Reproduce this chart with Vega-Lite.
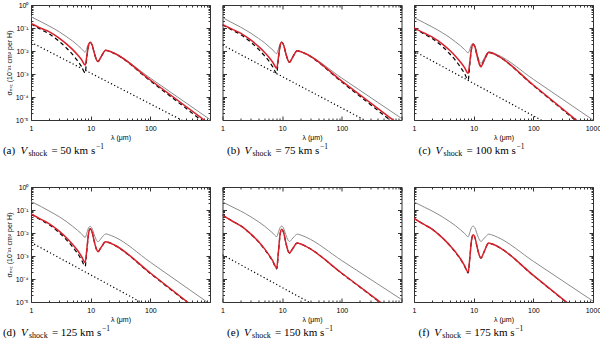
{
"$schema":"https://vega.github.io/schema/vega-lite/v6.json",
"padding":{"left":1,"top":0,"right":0,"bottom":0},
"background":"white",
"config":{"view":{"stroke":"#333","strokeWidth":1},"axis":{"grid":false,"labelFont":"Liberation Sans","titleFont":"Liberation Sans","labelFontSize":7,"titleFontSize":7,"titleFontWeight":"normal","labelColor":"#000","titleColor":"#000","tickColor":"#333"}},
"datasets":{
"a_gray":[{"lambda":1,"log_sigma":-0.51},{"lambda":1.5,"log_sigma":-0.74},{"lambda":2,"log_sigma":-0.91},{"lambda":3,"log_sigma":-1.17},{"lambda":4,"log_sigma":-1.39},{"lambda":5,"log_sigma":-1.57},{"lambda":6,"log_sigma":-1.74},{"lambda":7,"log_sigma":-1.9},{"lambda":8.1,"log_sigma":-2.05},{"lambda":8.6,"log_sigma":-1.89},{"lambda":9.2,"log_sigma":-1.68},{"lambda":9.8,"log_sigma":-1.62},{"lambda":10.5,"log_sigma":-1.72},{"lambda":11.5,"log_sigma":-2.08},{"lambda":12.5,"log_sigma":-2.38},{"lambda":13.3,"log_sigma":-2.46},{"lambda":14.5,"log_sigma":-2.31},{"lambda":16,"log_sigma":-2.12},{"lambda":17,"log_sigma":-2.01},{"lambda":18,"log_sigma":-1.97},{"lambda":20,"log_sigma":-2.0},{"lambda":25,"log_sigma":-2.1},{"lambda":100,"log_sigma":-3.18},{"lambda":1000,"log_sigma":-4.98}],
"a_red":[{"lambda":1,"log_sigma":-0.8},{"lambda":1.5,"log_sigma":-1.02},{"lambda":2,"log_sigma":-1.16},{"lambda":3,"log_sigma":-1.45},{"lambda":4,"log_sigma":-1.71},{"lambda":5,"log_sigma":-1.94},{"lambda":6,"log_sigma":-2.16},{"lambda":7,"log_sigma":-2.37},{"lambda":8.1,"log_sigma":-2.61},{"lambda":8.6,"log_sigma":-2.24},{"lambda":9.2,"log_sigma":-1.77},{"lambda":9.8,"log_sigma":-1.62},{"lambda":10.5,"log_sigma":-1.72},{"lambda":11.5,"log_sigma":-2.08},{"lambda":12.5,"log_sigma":-2.38},{"lambda":13.3,"log_sigma":-2.46},{"lambda":14.5,"log_sigma":-2.31},{"lambda":16,"log_sigma":-2.12},{"lambda":17,"log_sigma":-2.01},{"lambda":18,"log_sigma":-1.97},{"lambda":20,"log_sigma":-2.0},{"lambda":25,"log_sigma":-2.1},{"lambda":100,"log_sigma":-3.26},{"lambda":1000,"log_sigma":-5.19}],
"a_dashed":[{"lambda":1,"log_sigma":-0.82},{"lambda":1.5,"log_sigma":-1.08},{"lambda":2,"log_sigma":-1.25},{"lambda":3,"log_sigma":-1.59},{"lambda":4,"log_sigma":-1.89},{"lambda":5,"log_sigma":-2.16},{"lambda":6,"log_sigma":-2.42},{"lambda":7,"log_sigma":-2.67},{"lambda":8.1,"log_sigma":-2.95},{"lambda":8.6,"log_sigma":-2.3},{"lambda":9.2,"log_sigma":-1.78},{"lambda":9.8,"log_sigma":-1.62},{"lambda":10.5,"log_sigma":-1.72},{"lambda":11.5,"log_sigma":-2.08},{"lambda":12.5,"log_sigma":-2.38},{"lambda":13.3,"log_sigma":-2.46},{"lambda":14.5,"log_sigma":-2.31},{"lambda":16,"log_sigma":-2.12},{"lambda":17,"log_sigma":-2.01},{"lambda":18,"log_sigma":-1.97},{"lambda":20,"log_sigma":-2.0},{"lambda":25,"log_sigma":-2.11},{"lambda":100,"log_sigma":-3.3},{"lambda":1000,"log_sigma":-5.3}],
"a_dotted":[{"lambda":1,"log_sigma":-1.62},{"lambda":1000,"log_sigma":-5.64}],
"b_gray":[{"lambda":1,"log_sigma":-0.55},{"lambda":1.5,"log_sigma":-0.79},{"lambda":2,"log_sigma":-0.96},{"lambda":3,"log_sigma":-1.23},{"lambda":4,"log_sigma":-1.45},{"lambda":5,"log_sigma":-1.63},{"lambda":6,"log_sigma":-1.81},{"lambda":7,"log_sigma":-1.96},{"lambda":8.1,"log_sigma":-2.12},{"lambda":8.6,"log_sigma":-1.94},{"lambda":9.2,"log_sigma":-1.7},{"lambda":9.8,"log_sigma":-1.62},{"lambda":10.5,"log_sigma":-1.72},{"lambda":11.5,"log_sigma":-2.1},{"lambda":12.5,"log_sigma":-2.4},{"lambda":13.3,"log_sigma":-2.49},{"lambda":14.5,"log_sigma":-2.34},{"lambda":16,"log_sigma":-2.14},{"lambda":17,"log_sigma":-2.03},{"lambda":18,"log_sigma":-1.99},{"lambda":20,"log_sigma":-2.02},{"lambda":25,"log_sigma":-2.12},{"lambda":100,"log_sigma":-3.18},{"lambda":1000,"log_sigma":-4.93}],
"b_red":[{"lambda":1,"log_sigma":-0.84},{"lambda":1.5,"log_sigma":-1.07},{"lambda":2,"log_sigma":-1.22},{"lambda":3,"log_sigma":-1.53},{"lambda":4,"log_sigma":-1.8},{"lambda":5,"log_sigma":-2.04},{"lambda":6,"log_sigma":-2.27},{"lambda":7,"log_sigma":-2.5},{"lambda":8.1,"log_sigma":-2.75},{"lambda":8.6,"log_sigma":-2.33},{"lambda":9.2,"log_sigma":-1.79},{"lambda":9.8,"log_sigma":-1.62},{"lambda":10.5,"log_sigma":-1.72},{"lambda":11.5,"log_sigma":-2.1},{"lambda":12.5,"log_sigma":-2.4},{"lambda":13.3,"log_sigma":-2.49},{"lambda":14.5,"log_sigma":-2.34},{"lambda":16,"log_sigma":-2.14},{"lambda":17,"log_sigma":-2.03},{"lambda":18,"log_sigma":-1.99},{"lambda":20,"log_sigma":-2.02},{"lambda":25,"log_sigma":-2.12},{"lambda":100,"log_sigma":-3.31},{"lambda":1000,"log_sigma":-5.28}],
"b_dashed":[{"lambda":1,"log_sigma":-0.86},{"lambda":1.5,"log_sigma":-1.11},{"lambda":2,"log_sigma":-1.28},{"lambda":3,"log_sigma":-1.62},{"lambda":4,"log_sigma":-1.92},{"lambda":5,"log_sigma":-2.19},{"lambda":6,"log_sigma":-2.44},{"lambda":7,"log_sigma":-2.7},{"lambda":8.1,"log_sigma":-2.97},{"lambda":8.6,"log_sigma":-2.4},{"lambda":9.2,"log_sigma":-1.8},{"lambda":9.8,"log_sigma":-1.62},{"lambda":10.5,"log_sigma":-1.72},{"lambda":11.5,"log_sigma":-2.1},{"lambda":12.5,"log_sigma":-2.4},{"lambda":13.3,"log_sigma":-2.49},{"lambda":14.5,"log_sigma":-2.34},{"lambda":16,"log_sigma":-2.14},{"lambda":17,"log_sigma":-2.03},{"lambda":18,"log_sigma":-1.99},{"lambda":20,"log_sigma":-2.02},{"lambda":25,"log_sigma":-2.13},{"lambda":100,"log_sigma":-3.35},{"lambda":1000,"log_sigma":-5.4}],
"b_dotted":[{"lambda":1,"log_sigma":-1.74},{"lambda":1000,"log_sigma":-5.85}],
"c_gray":[{"lambda":1,"log_sigma":-0.55},{"lambda":1.5,"log_sigma":-0.78},{"lambda":2,"log_sigma":-0.95},{"lambda":3,"log_sigma":-1.21},{"lambda":4,"log_sigma":-1.42},{"lambda":5,"log_sigma":-1.61},{"lambda":6,"log_sigma":-1.77},{"lambda":7,"log_sigma":-1.93},{"lambda":8.1,"log_sigma":-2.08},{"lambda":8.6,"log_sigma":-1.93},{"lambda":9.2,"log_sigma":-1.73},{"lambda":9.8,"log_sigma":-1.67},{"lambda":10.5,"log_sigma":-1.77},{"lambda":11.5,"log_sigma":-2.15},{"lambda":12.5,"log_sigma":-2.45},{"lambda":13.3,"log_sigma":-2.54},{"lambda":14.5,"log_sigma":-2.39},{"lambda":16,"log_sigma":-2.18},{"lambda":17,"log_sigma":-2.07},{"lambda":18,"log_sigma":-2.03},{"lambda":20,"log_sigma":-2.06},{"lambda":25,"log_sigma":-2.16},{"lambda":100,"log_sigma":-3.23},{"lambda":1000,"log_sigma":-5.0}],
"c_red":[{"lambda":1,"log_sigma":-0.99},{"lambda":1.5,"log_sigma":-1.23},{"lambda":2,"log_sigma":-1.39},{"lambda":3,"log_sigma":-1.7},{"lambda":4,"log_sigma":-1.98},{"lambda":5,"log_sigma":-2.24},{"lambda":6,"log_sigma":-2.48},{"lambda":7,"log_sigma":-2.71},{"lambda":8.1,"log_sigma":-2.97},{"lambda":8.6,"log_sigma":-2.5},{"lambda":9.2,"log_sigma":-1.9},{"lambda":9.8,"log_sigma":-1.71},{"lambda":10.5,"log_sigma":-1.83},{"lambda":11.5,"log_sigma":-2.24},{"lambda":12.5,"log_sigma":-2.58},{"lambda":13.3,"log_sigma":-2.68},{"lambda":14.5,"log_sigma":-2.49},{"lambda":16,"log_sigma":-2.25},{"lambda":17,"log_sigma":-2.11},{"lambda":18,"log_sigma":-2.06},{"lambda":20,"log_sigma":-2.09},{"lambda":25,"log_sigma":-2.2},{"lambda":100,"log_sigma":-3.48},{"lambda":1000,"log_sigma":-5.6}],
"c_dashed":[{"lambda":1,"log_sigma":-1.0},{"lambda":1.5,"log_sigma":-1.27},{"lambda":2,"log_sigma":-1.45},{"lambda":3,"log_sigma":-1.81},{"lambda":4,"log_sigma":-2.13},{"lambda":5,"log_sigma":-2.42},{"lambda":6,"log_sigma":-2.7},{"lambda":7,"log_sigma":-2.97},{"lambda":8.1,"log_sigma":-3.26},{"lambda":8.6,"log_sigma":-2.6},{"lambda":9.2,"log_sigma":-1.92},{"lambda":9.8,"log_sigma":-1.71},{"lambda":10.5,"log_sigma":-1.83},{"lambda":11.5,"log_sigma":-2.24},{"lambda":12.5,"log_sigma":-2.58},{"lambda":13.3,"log_sigma":-2.68},{"lambda":14.5,"log_sigma":-2.49},{"lambda":16,"log_sigma":-2.25},{"lambda":17,"log_sigma":-2.11},{"lambda":18,"log_sigma":-2.06},{"lambda":20,"log_sigma":-2.09},{"lambda":25,"log_sigma":-2.21},{"lambda":100,"log_sigma":-3.5},{"lambda":1000,"log_sigma":-5.65}],
"c_dotted":[{"lambda":1,"log_sigma":-2.0},{"lambda":1000,"log_sigma":-6.23}],
"d_gray":[{"lambda":1,"log_sigma":-0.63},{"lambda":1.5,"log_sigma":-0.86},{"lambda":2,"log_sigma":-1.04},{"lambda":3,"log_sigma":-1.3},{"lambda":4,"log_sigma":-1.52},{"lambda":5,"log_sigma":-1.71},{"lambda":6,"log_sigma":-1.88},{"lambda":7,"log_sigma":-2.03},{"lambda":8.1,"log_sigma":-2.19},{"lambda":8.6,"log_sigma":-2.01},{"lambda":9.2,"log_sigma":-1.78},{"lambda":9.8,"log_sigma":-1.71},{"lambda":10.5,"log_sigma":-1.79},{"lambda":11.5,"log_sigma":-2.08},{"lambda":12.5,"log_sigma":-2.31},{"lambda":13.3,"log_sigma":-2.38},{"lambda":14.5,"log_sigma":-2.28},{"lambda":16,"log_sigma":-2.14},{"lambda":17,"log_sigma":-2.07},{"lambda":18,"log_sigma":-2.04},{"lambda":20,"log_sigma":-2.07},{"lambda":25,"log_sigma":-2.17},{"lambda":100,"log_sigma":-3.27},{"lambda":1000,"log_sigma":-5.09}],
"d_red":[{"lambda":1,"log_sigma":-1.17},{"lambda":1.5,"log_sigma":-1.42},{"lambda":2,"log_sigma":-1.59},{"lambda":3,"log_sigma":-1.93},{"lambda":4,"log_sigma":-2.23},{"lambda":5,"log_sigma":-2.5},{"lambda":6,"log_sigma":-2.75},{"lambda":7,"log_sigma":-3.01},{"lambda":8.1,"log_sigma":-3.28},{"lambda":8.6,"log_sigma":-2.74},{"lambda":9.2,"log_sigma":-2.04},{"lambda":9.8,"log_sigma":-1.82},{"lambda":10.5,"log_sigma":-1.94},{"lambda":11.5,"log_sigma":-2.37},{"lambda":12.5,"log_sigma":-2.71},{"lambda":13.3,"log_sigma":-2.81},{"lambda":14.5,"log_sigma":-2.68},{"lambda":16,"log_sigma":-2.51},{"lambda":17,"log_sigma":-2.41},{"lambda":18,"log_sigma":-2.38},{"lambda":20,"log_sigma":-2.41},{"lambda":25,"log_sigma":-2.52},{"lambda":100,"log_sigma":-3.74},{"lambda":1000,"log_sigma":-5.77}],
"d_dashed":[{"lambda":1,"log_sigma":-1.18},{"lambda":1.5,"log_sigma":-1.45},{"lambda":2,"log_sigma":-1.63},{"lambda":3,"log_sigma":-2.0},{"lambda":4,"log_sigma":-2.32},{"lambda":5,"log_sigma":-2.61},{"lambda":6,"log_sigma":-2.88},{"lambda":7,"log_sigma":-3.16},{"lambda":8.1,"log_sigma":-3.45},{"lambda":8.6,"log_sigma":-2.8},{"lambda":9.2,"log_sigma":-2.06},{"lambda":9.8,"log_sigma":-1.82},{"lambda":10.5,"log_sigma":-1.94},{"lambda":11.5,"log_sigma":-2.37},{"lambda":12.5,"log_sigma":-2.71},{"lambda":13.3,"log_sigma":-2.81},{"lambda":14.5,"log_sigma":-2.68},{"lambda":16,"log_sigma":-2.51},{"lambda":17,"log_sigma":-2.41},{"lambda":18,"log_sigma":-2.38},{"lambda":20,"log_sigma":-2.41},{"lambda":25,"log_sigma":-2.53},{"lambda":100,"log_sigma":-3.76},{"lambda":1000,"log_sigma":-5.8}],
"d_dotted":[{"lambda":1,"log_sigma":-2.41},{"lambda":1000,"log_sigma":-6.64}],
"e_gray":[{"lambda":1,"log_sigma":-0.65},{"lambda":1.5,"log_sigma":-0.88},{"lambda":2,"log_sigma":-1.04},{"lambda":3,"log_sigma":-1.3},{"lambda":4,"log_sigma":-1.51},{"lambda":5,"log_sigma":-1.69},{"lambda":6,"log_sigma":-1.86},{"lambda":7,"log_sigma":-2.01},{"lambda":8.1,"log_sigma":-2.16},{"lambda":8.6,"log_sigma":-1.99},{"lambda":9.2,"log_sigma":-1.77},{"lambda":9.8,"log_sigma":-1.7},{"lambda":10.5,"log_sigma":-1.78},{"lambda":11.5,"log_sigma":-2.07},{"lambda":12.5,"log_sigma":-2.3},{"lambda":13.3,"log_sigma":-2.37},{"lambda":14.5,"log_sigma":-2.27},{"lambda":16,"log_sigma":-2.15},{"lambda":17,"log_sigma":-2.08},{"lambda":18,"log_sigma":-2.05},{"lambda":20,"log_sigma":-2.08},{"lambda":25,"log_sigma":-2.18},{"lambda":100,"log_sigma":-3.2},{"lambda":1000,"log_sigma":-4.89}],
"e_red":[{"lambda":1,"log_sigma":-1.22},{"lambda":1.5,"log_sigma":-1.5},{"lambda":2,"log_sigma":-1.68},{"lambda":3,"log_sigma":-2.05},{"lambda":4,"log_sigma":-2.37},{"lambda":5,"log_sigma":-2.67},{"lambda":6,"log_sigma":-2.95},{"lambda":7,"log_sigma":-3.22},{"lambda":8.1,"log_sigma":-3.52},{"lambda":8.6,"log_sigma":-2.9},{"lambda":9.2,"log_sigma":-2.09},{"lambda":9.8,"log_sigma":-1.84},{"lambda":10.5,"log_sigma":-1.96},{"lambda":11.5,"log_sigma":-2.41},{"lambda":12.5,"log_sigma":-2.77},{"lambda":13.3,"log_sigma":-2.87},{"lambda":14.5,"log_sigma":-2.74},{"lambda":16,"log_sigma":-2.57},{"lambda":17,"log_sigma":-2.47},{"lambda":18,"log_sigma":-2.44},{"lambda":20,"log_sigma":-2.47},{"lambda":25,"log_sigma":-2.58},{"lambda":100,"log_sigma":-3.75},{"lambda":1000,"log_sigma":-5.7}],
"e_dashed":[{"lambda":1,"log_sigma":-1.22},{"lambda":1.5,"log_sigma":-1.5},{"lambda":2,"log_sigma":-1.68},{"lambda":3,"log_sigma":-2.06},{"lambda":4,"log_sigma":-2.38},{"lambda":5,"log_sigma":-2.69},{"lambda":6,"log_sigma":-2.97},{"lambda":7,"log_sigma":-3.25},{"lambda":8.1,"log_sigma":-3.56},{"lambda":8.6,"log_sigma":-2.92},{"lambda":9.2,"log_sigma":-2.1},{"lambda":9.8,"log_sigma":-1.84},{"lambda":10.5,"log_sigma":-1.96},{"lambda":11.5,"log_sigma":-2.41},{"lambda":12.5,"log_sigma":-2.77},{"lambda":13.3,"log_sigma":-2.87},{"lambda":14.5,"log_sigma":-2.74},{"lambda":16,"log_sigma":-2.57},{"lambda":17,"log_sigma":-2.47},{"lambda":18,"log_sigma":-2.44},{"lambda":20,"log_sigma":-2.47},{"lambda":25,"log_sigma":-2.58},{"lambda":100,"log_sigma":-3.76},{"lambda":1000,"log_sigma":-5.72}],
"e_dotted":[{"lambda":1,"log_sigma":-2.95},{"lambda":1000,"log_sigma":-7.21}],
"f_gray":[{"lambda":1,"log_sigma":-0.65},{"lambda":1.5,"log_sigma":-0.88},{"lambda":2,"log_sigma":-1.04},{"lambda":3,"log_sigma":-1.3},{"lambda":4,"log_sigma":-1.51},{"lambda":5,"log_sigma":-1.69},{"lambda":6,"log_sigma":-1.86},{"lambda":7,"log_sigma":-2.01},{"lambda":8.1,"log_sigma":-2.16},{"lambda":8.6,"log_sigma":-1.99},{"lambda":9.2,"log_sigma":-1.77},{"lambda":9.8,"log_sigma":-1.7},{"lambda":10.5,"log_sigma":-1.78},{"lambda":11.5,"log_sigma":-2.07},{"lambda":12.5,"log_sigma":-2.3},{"lambda":13.3,"log_sigma":-2.37},{"lambda":14.5,"log_sigma":-2.27},{"lambda":16,"log_sigma":-2.15},{"lambda":17,"log_sigma":-2.08},{"lambda":18,"log_sigma":-2.05},{"lambda":20,"log_sigma":-2.08},{"lambda":25,"log_sigma":-2.18},{"lambda":100,"log_sigma":-3.23},{"lambda":1000,"log_sigma":-4.96}],
"f_red":[{"lambda":1,"log_sigma":-1.36},{"lambda":1.5,"log_sigma":-1.64},{"lambda":2,"log_sigma":-1.83},{"lambda":3,"log_sigma":-2.21},{"lambda":4,"log_sigma":-2.54},{"lambda":5,"log_sigma":-2.84},{"lambda":6,"log_sigma":-3.12},{"lambda":7,"log_sigma":-3.41},{"lambda":8.1,"log_sigma":-3.71},{"lambda":8.6,"log_sigma":-3.11},{"lambda":9.2,"log_sigma":-2.32},{"lambda":9.8,"log_sigma":-2.08},{"lambda":10.5,"log_sigma":-2.2},{"lambda":11.5,"log_sigma":-2.64},{"lambda":12.5,"log_sigma":-2.99},{"lambda":13.3,"log_sigma":-3.09},{"lambda":14.5,"log_sigma":-2.9},{"lambda":16,"log_sigma":-2.64},{"lambda":17,"log_sigma":-2.49},{"lambda":18,"log_sigma":-2.44},{"lambda":20,"log_sigma":-2.47},{"lambda":25,"log_sigma":-2.58},{"lambda":100,"log_sigma":-3.84},{"lambda":1000,"log_sigma":-5.94}],
"f_dashed":[{"lambda":1,"log_sigma":-1.36},{"lambda":1.5,"log_sigma":-1.64},{"lambda":2,"log_sigma":-1.83},{"lambda":3,"log_sigma":-2.21},{"lambda":4,"log_sigma":-2.55},{"lambda":5,"log_sigma":-2.86},{"lambda":6,"log_sigma":-3.14},{"lambda":7,"log_sigma":-3.43},{"lambda":8.1,"log_sigma":-3.74},{"lambda":8.6,"log_sigma":-3.12},{"lambda":9.2,"log_sigma":-2.32},{"lambda":9.8,"log_sigma":-2.08},{"lambda":10.5,"log_sigma":-2.2},{"lambda":11.5,"log_sigma":-2.64},{"lambda":12.5,"log_sigma":-2.99},{"lambda":13.3,"log_sigma":-3.09},{"lambda":14.5,"log_sigma":-2.9},{"lambda":16,"log_sigma":-2.64},{"lambda":17,"log_sigma":-2.49},{"lambda":18,"log_sigma":-2.44},{"lambda":20,"log_sigma":-2.47},{"lambda":25,"log_sigma":-2.58},{"lambda":100,"log_sigma":-3.85},{"lambda":1000,"log_sigma":-5.95}]
},
"columns":3,
"spacing":{"row":67,"column":12.5},
"bounds":"flush",
"concat":[
{"width":179,"height":115,"resolve":{"axis":{"x":"independent","y":"independent"}},
"layer":[
{"data":{"name":"a_gray"},"mark":{"type":"line","color":"#8a8a8a","strokeWidth":1,"interpolate":"monotone","clip":true},"encoding":{"x":{"field":"lambda","type":"quantitative","scale":{"type":"log","domain":[1,1000]},"axis":{"orient":"bottom","values":[1,10,100],"ticks":false,"domain":false,"labelExpr":"'' + datum.value","labelPadding":4,"labelFlush":false,"labelOverlap":false,"title":"λ (μm)","titleY":17,"titleBaseline":"middle","titleColor":"#000"}},"y":{"field":"log_sigma","type":"quantitative","scale":{"domain":[-5,0],"nice":false,"zero":false},"axis":{"orient":"left","values":[-5,-4,-3,-2,-1,0],"ticks":false,"domain":false,"labelExpr":"['10⁰','10⁻¹','10⁻²','10⁻³','10⁻⁴','10⁻⁵'][round(-datum.value)]","labelPadding":3,"labelFlush":false,"labelOverlap":false,"title":"σₑₓₜ (10⁻²¹ cm² per H)","titleX":-22,"titleY":57.5,"titleAngle":-90,"titleAlign":"center","titleBaseline":"middle","titleColor":"#000"}}}},
{"data":{"name":"a_dotted"},"mark":{"type":"line","color":"#000","strokeWidth":1.2,"strokeDash":[1.2,2.4],"clip":true},"encoding":{"x":{"field":"lambda","type":"quantitative","scale":{"type":"log","domain":[1,1000]},"axis":{"orient":"bottom","values":[1,10,100,1000],"labels":false,"tickSize":-4,"domain":false,"title":null}},"y":{"field":"log_sigma","type":"quantitative","scale":{"domain":[-5,0],"nice":false,"zero":false},"axis":{"orient":"left","values":[-5,-4,-3,-2,-1,0],"labels":false,"tickSize":-4,"domain":false,"title":null}}}},
{"data":{"name":"a_dashed"},"mark":{"type":"line","color":"#000","strokeWidth":1.2,"strokeDash":[4,3],"interpolate":"monotone","clip":true},"encoding":{"x":{"field":"lambda","type":"quantitative","scale":{"type":"log","domain":[1,1000]},"axis":{"orient":"bottom","values":[2,3,4,5,6,7,8,9,20,30,40,50,60,70,80,90,200,300,400,500,600,700,800,900],"labels":false,"tickSize":-2,"domain":false,"title":null}},"y":{"field":"log_sigma","type":"quantitative","scale":{"domain":[-5,0],"nice":false,"zero":false},"axis":{"orient":"left","values":[-4.699,-4.523,-4.398,-4.301,-4.222,-4.155,-4.097,-4.046,-3.699,-3.523,-3.398,-3.301,-3.222,-3.155,-3.097,-3.046,-2.699,-2.523,-2.398,-2.301,-2.222,-2.155,-2.097,-2.046,-1.699,-1.523,-1.398,-1.301,-1.222,-1.155,-1.097,-1.046,-0.699,-0.523,-0.398,-0.301,-0.222,-0.155,-0.097,-0.046],"labels":false,"tickSize":-2,"domain":false,"title":null}}}},
{"data":{"name":"a_red"},"mark":{"type":"line","color":"#d8202a","strokeWidth":1.5,"interpolate":"monotone","clip":true},"encoding":{"x":{"field":"lambda","type":"quantitative","scale":{"type":"log","domain":[1,1000]},"axis":{"orient":"top","values":[1,10,100,1000],"labels":false,"tickSize":-4,"domain":false,"title":null}},"y":{"field":"log_sigma","type":"quantitative","scale":{"domain":[-5,0],"nice":false,"zero":false},"axis":{"orient":"right","values":[-5,-4,-3,-2,-1,0],"labels":false,"tickSize":-4,"domain":false,"title":null}}}},
{"data":{"name":"a_gray"},"mark":{"type":"line","strokeOpacity":0},"encoding":{"x":{"field":"lambda","type":"quantitative","scale":{"type":"log","domain":[1,1000]},"axis":{"orient":"top","values":[2,3,4,5,6,7,8,9,20,30,40,50,60,70,80,90,200,300,400,500,600,700,800,900],"labels":false,"tickSize":-2,"domain":false,"title":null}},"y":{"field":"log_sigma","type":"quantitative","scale":{"domain":[-5,0],"nice":false,"zero":false},"axis":{"orient":"right","values":[-4.699,-4.523,-4.398,-4.301,-4.222,-4.155,-4.097,-4.046,-3.699,-3.523,-3.398,-3.301,-3.222,-3.155,-3.097,-3.046,-2.699,-2.523,-2.398,-2.301,-2.222,-2.155,-2.097,-2.046,-1.699,-1.523,-1.398,-1.301,-1.222,-1.155,-1.097,-1.046,-0.699,-0.523,-0.398,-0.301,-0.222,-0.155,-0.097,-0.046],"labels":false,"tickSize":-2,"domain":false,"title":null}}}},
{"data":{"name":"a_gray"},"mark":{"type":"line","strokeOpacity":0},"encoding":{"x":{"field":"lambda","type":"quantitative","scale":{"type":"log","domain":[1,1000]},"axis":{"orient":"bottom","labels":false,"ticks":false,"domain":false,"title":"(a)","titleX":-28.6,"titleY":33,"titleAlign":"left","titleBaseline":"alphabetic","titleFont":"Liberation Serif","titleFontSize":11,"titleColor":"#000"}},"y":{"field":"log_sigma","type":"quantitative","scale":{"domain":[-5,0],"nice":false,"zero":false},"axis":{"orient":"left","labels":false,"ticks":false,"domain":false,"title":"V","titleX":-11,"titleY":148,"titleAngle":0,"titleAlign":"left","titleBaseline":"alphabetic","titleFont":"Liberation Serif","titleFontSize":11,"titleFontStyle":"italic","titleColor":"#000"}}}},
{"data":{"name":"a_gray"},"mark":{"type":"line","strokeOpacity":0},"encoding":{"x":{"field":"lambda","type":"quantitative","scale":{"type":"log","domain":[1,1000]},"axis":{"orient":"bottom","labels":false,"ticks":false,"domain":false,"title":"shock","titleX":-3,"titleY":35.5,"titleAlign":"left","titleBaseline":"alphabetic","titleFont":"Liberation Serif","titleFontSize":8,"titleColor":"#000"}},"y":{"field":"log_sigma","type":"quantitative","scale":{"domain":[-5,0],"nice":false,"zero":false},"axis":{"orient":"left","labels":false,"ticks":false,"domain":false,"title":"= 50 km s","titleX":19.9,"titleY":148,"titleAngle":0,"titleAlign":"left","titleBaseline":"alphabetic","titleFont":"Liberation Serif","titleFontSize":11,"titleColor":"#000"}}}},
{"data":{"name":"a_gray"},"mark":{"type":"line","strokeOpacity":0},"encoding":{"x":{"field":"lambda","type":"quantitative","scale":{"type":"log","domain":[1,1000]},"axis":{"orient":"bottom","labels":false,"ticks":false,"domain":false,"title":"−1","titleX":64.4,"titleY":28.5,"titleAlign":"left","titleBaseline":"alphabetic","titleFont":"Liberation Serif","titleFontSize":7.5,"titleColor":"#000"}},"y":{"field":"log_sigma","type":"quantitative","scale":{"domain":[-5,0],"nice":false,"zero":false},"axis":null}}}
]},
{"width":179,"height":115,"resolve":{"axis":{"x":"independent","y":"independent"}},
"layer":[
{"data":{"name":"b_gray"},"mark":{"type":"line","color":"#8a8a8a","strokeWidth":1,"interpolate":"monotone","clip":true},"encoding":{"x":{"field":"lambda","type":"quantitative","scale":{"type":"log","domain":[1,1000]},"axis":{"orient":"bottom","values":[1,10,100],"ticks":false,"domain":false,"labelExpr":"'' + datum.value","labelPadding":4,"labelFlush":false,"labelOverlap":false,"title":"λ (μm)","titleY":17,"titleBaseline":"middle","titleColor":"#000"}},"y":{"field":"log_sigma","type":"quantitative","scale":{"domain":[-5,0],"nice":false,"zero":false},"axis":null}}},
{"data":{"name":"b_dotted"},"mark":{"type":"line","color":"#000","strokeWidth":1.2,"strokeDash":[1.2,2.4],"clip":true},"encoding":{"x":{"field":"lambda","type":"quantitative","scale":{"type":"log","domain":[1,1000]},"axis":{"orient":"bottom","values":[1,10,100,1000],"labels":false,"tickSize":-4,"domain":false,"title":null}},"y":{"field":"log_sigma","type":"quantitative","scale":{"domain":[-5,0],"nice":false,"zero":false},"axis":{"orient":"left","values":[-5,-4,-3,-2,-1,0],"labels":false,"tickSize":-4,"domain":false,"title":null}}}},
{"data":{"name":"b_dashed"},"mark":{"type":"line","color":"#000","strokeWidth":1.2,"strokeDash":[4,3],"interpolate":"monotone","clip":true},"encoding":{"x":{"field":"lambda","type":"quantitative","scale":{"type":"log","domain":[1,1000]},"axis":{"orient":"bottom","values":[2,3,4,5,6,7,8,9,20,30,40,50,60,70,80,90,200,300,400,500,600,700,800,900],"labels":false,"tickSize":-2,"domain":false,"title":null}},"y":{"field":"log_sigma","type":"quantitative","scale":{"domain":[-5,0],"nice":false,"zero":false},"axis":{"orient":"left","values":[-4.699,-4.523,-4.398,-4.301,-4.222,-4.155,-4.097,-4.046,-3.699,-3.523,-3.398,-3.301,-3.222,-3.155,-3.097,-3.046,-2.699,-2.523,-2.398,-2.301,-2.222,-2.155,-2.097,-2.046,-1.699,-1.523,-1.398,-1.301,-1.222,-1.155,-1.097,-1.046,-0.699,-0.523,-0.398,-0.301,-0.222,-0.155,-0.097,-0.046],"labels":false,"tickSize":-2,"domain":false,"title":null}}}},
{"data":{"name":"b_red"},"mark":{"type":"line","color":"#d8202a","strokeWidth":1.5,"interpolate":"monotone","clip":true},"encoding":{"x":{"field":"lambda","type":"quantitative","scale":{"type":"log","domain":[1,1000]},"axis":{"orient":"top","values":[1,10,100,1000],"labels":false,"tickSize":-4,"domain":false,"title":null}},"y":{"field":"log_sigma","type":"quantitative","scale":{"domain":[-5,0],"nice":false,"zero":false},"axis":{"orient":"right","values":[-5,-4,-3,-2,-1,0],"labels":false,"tickSize":-4,"domain":false,"title":null}}}},
{"data":{"name":"b_gray"},"mark":{"type":"line","strokeOpacity":0},"encoding":{"x":{"field":"lambda","type":"quantitative","scale":{"type":"log","domain":[1,1000]},"axis":{"orient":"top","values":[2,3,4,5,6,7,8,9,20,30,40,50,60,70,80,90,200,300,400,500,600,700,800,900],"labels":false,"tickSize":-2,"domain":false,"title":null}},"y":{"field":"log_sigma","type":"quantitative","scale":{"domain":[-5,0],"nice":false,"zero":false},"axis":{"orient":"right","values":[-4.699,-4.523,-4.398,-4.301,-4.222,-4.155,-4.097,-4.046,-3.699,-3.523,-3.398,-3.301,-3.222,-3.155,-3.097,-3.046,-2.699,-2.523,-2.398,-2.301,-2.222,-2.155,-2.097,-2.046,-1.699,-1.523,-1.398,-1.301,-1.222,-1.155,-1.097,-1.046,-0.699,-0.523,-0.398,-0.301,-0.222,-0.155,-0.097,-0.046],"labels":false,"tickSize":-2,"domain":false,"title":null}}}},
{"data":{"name":"b_gray"},"mark":{"type":"line","strokeOpacity":0},"encoding":{"x":{"field":"lambda","type":"quantitative","scale":{"type":"log","domain":[1,1000]},"axis":{"orient":"bottom","labels":false,"ticks":false,"domain":false,"title":"(b)","titleX":4,"titleY":33,"titleAlign":"left","titleBaseline":"alphabetic","titleFont":"Liberation Serif","titleFontSize":11,"titleColor":"#000"}},"y":{"field":"log_sigma","type":"quantitative","scale":{"domain":[-5,0],"nice":false,"zero":false},"axis":{"orient":"left","labels":false,"ticks":false,"domain":false,"title":"V","titleX":21.6,"titleY":148,"titleAngle":0,"titleAlign":"left","titleBaseline":"alphabetic","titleFont":"Liberation Serif","titleFontSize":11,"titleFontStyle":"italic","titleColor":"#000"}}}},
{"data":{"name":"b_gray"},"mark":{"type":"line","strokeOpacity":0},"encoding":{"x":{"field":"lambda","type":"quantitative","scale":{"type":"log","domain":[1,1000]},"axis":{"orient":"bottom","labels":false,"ticks":false,"domain":false,"title":"shock","titleX":29.5,"titleY":35.5,"titleAlign":"left","titleBaseline":"alphabetic","titleFont":"Liberation Serif","titleFontSize":8,"titleColor":"#000"}},"y":{"field":"log_sigma","type":"quantitative","scale":{"domain":[-5,0],"nice":false,"zero":false},"axis":{"orient":"left","labels":false,"ticks":false,"domain":false,"title":"= 75 km s","titleX":52.5,"titleY":148,"titleAngle":0,"titleAlign":"left","titleBaseline":"alphabetic","titleFont":"Liberation Serif","titleFontSize":11,"titleColor":"#000"}}}},
{"data":{"name":"b_gray"},"mark":{"type":"line","strokeOpacity":0},"encoding":{"x":{"field":"lambda","type":"quantitative","scale":{"type":"log","domain":[1,1000]},"axis":{"orient":"bottom","labels":false,"ticks":false,"domain":false,"title":"−1","titleX":97,"titleY":28.5,"titleAlign":"left","titleBaseline":"alphabetic","titleFont":"Liberation Serif","titleFontSize":7.5,"titleColor":"#000"}},"y":{"field":"log_sigma","type":"quantitative","scale":{"domain":[-5,0],"nice":false,"zero":false},"axis":null}}}
]},
{"width":179,"height":115,"resolve":{"axis":{"x":"independent","y":"independent"}},
"layer":[
{"data":{"name":"c_gray"},"mark":{"type":"line","color":"#8a8a8a","strokeWidth":1,"interpolate":"monotone","clip":true},"encoding":{"x":{"field":"lambda","type":"quantitative","scale":{"type":"log","domain":[1,1000]},"axis":{"orient":"bottom","values":[1,10,100,1000],"ticks":false,"domain":false,"labelExpr":"'' + datum.value","labelPadding":4,"labelFlush":false,"labelOverlap":false,"title":"λ (μm)","titleY":17,"titleBaseline":"middle","titleColor":"#000"}},"y":{"field":"log_sigma","type":"quantitative","scale":{"domain":[-5,0],"nice":false,"zero":false},"axis":null}}},
{"data":{"name":"c_dotted"},"mark":{"type":"line","color":"#000","strokeWidth":1.2,"strokeDash":[1.2,2.4],"clip":true},"encoding":{"x":{"field":"lambda","type":"quantitative","scale":{"type":"log","domain":[1,1000]},"axis":{"orient":"bottom","values":[1,10,100,1000],"labels":false,"tickSize":-4,"domain":false,"title":null}},"y":{"field":"log_sigma","type":"quantitative","scale":{"domain":[-5,0],"nice":false,"zero":false},"axis":{"orient":"left","values":[-5,-4,-3,-2,-1,0],"labels":false,"tickSize":-4,"domain":false,"title":null}}}},
{"data":{"name":"c_dashed"},"mark":{"type":"line","color":"#000","strokeWidth":1.2,"strokeDash":[4,3],"interpolate":"monotone","clip":true},"encoding":{"x":{"field":"lambda","type":"quantitative","scale":{"type":"log","domain":[1,1000]},"axis":{"orient":"bottom","values":[2,3,4,5,6,7,8,9,20,30,40,50,60,70,80,90,200,300,400,500,600,700,800,900],"labels":false,"tickSize":-2,"domain":false,"title":null}},"y":{"field":"log_sigma","type":"quantitative","scale":{"domain":[-5,0],"nice":false,"zero":false},"axis":{"orient":"left","values":[-4.699,-4.523,-4.398,-4.301,-4.222,-4.155,-4.097,-4.046,-3.699,-3.523,-3.398,-3.301,-3.222,-3.155,-3.097,-3.046,-2.699,-2.523,-2.398,-2.301,-2.222,-2.155,-2.097,-2.046,-1.699,-1.523,-1.398,-1.301,-1.222,-1.155,-1.097,-1.046,-0.699,-0.523,-0.398,-0.301,-0.222,-0.155,-0.097,-0.046],"labels":false,"tickSize":-2,"domain":false,"title":null}}}},
{"data":{"name":"c_red"},"mark":{"type":"line","color":"#d8202a","strokeWidth":1.5,"interpolate":"monotone","clip":true},"encoding":{"x":{"field":"lambda","type":"quantitative","scale":{"type":"log","domain":[1,1000]},"axis":{"orient":"top","values":[1,10,100,1000],"labels":false,"tickSize":-4,"domain":false,"title":null}},"y":{"field":"log_sigma","type":"quantitative","scale":{"domain":[-5,0],"nice":false,"zero":false},"axis":{"orient":"right","values":[-5,-4,-3,-2,-1,0],"labels":false,"tickSize":-4,"domain":false,"title":null}}}},
{"data":{"name":"c_gray"},"mark":{"type":"line","strokeOpacity":0},"encoding":{"x":{"field":"lambda","type":"quantitative","scale":{"type":"log","domain":[1,1000]},"axis":{"orient":"top","values":[2,3,4,5,6,7,8,9,20,30,40,50,60,70,80,90,200,300,400,500,600,700,800,900],"labels":false,"tickSize":-2,"domain":false,"title":null}},"y":{"field":"log_sigma","type":"quantitative","scale":{"domain":[-5,0],"nice":false,"zero":false},"axis":{"orient":"right","values":[-4.699,-4.523,-4.398,-4.301,-4.222,-4.155,-4.097,-4.046,-3.699,-3.523,-3.398,-3.301,-3.222,-3.155,-3.097,-3.046,-2.699,-2.523,-2.398,-2.301,-2.222,-2.155,-2.097,-2.046,-1.699,-1.523,-1.398,-1.301,-1.222,-1.155,-1.097,-1.046,-0.699,-0.523,-0.398,-0.301,-0.222,-0.155,-0.097,-0.046],"labels":false,"tickSize":-2,"domain":false,"title":null}}}},
{"data":{"name":"c_gray"},"mark":{"type":"line","strokeOpacity":0},"encoding":{"x":{"field":"lambda","type":"quantitative","scale":{"type":"log","domain":[1,1000]},"axis":{"orient":"bottom","labels":false,"ticks":false,"domain":false,"title":"(c)","titleX":4,"titleY":33,"titleAlign":"left","titleBaseline":"alphabetic","titleFont":"Liberation Serif","titleFontSize":11,"titleColor":"#000"}},"y":{"field":"log_sigma","type":"quantitative","scale":{"domain":[-5,0],"nice":false,"zero":false},"axis":{"orient":"left","labels":false,"ticks":false,"domain":false,"title":"V","titleX":21.1,"titleY":148,"titleAngle":0,"titleAlign":"left","titleBaseline":"alphabetic","titleFont":"Liberation Serif","titleFontSize":11,"titleFontStyle":"italic","titleColor":"#000"}}}},
{"data":{"name":"c_gray"},"mark":{"type":"line","strokeOpacity":0},"encoding":{"x":{"field":"lambda","type":"quantitative","scale":{"type":"log","domain":[1,1000]},"axis":{"orient":"bottom","labels":false,"ticks":false,"domain":false,"title":"shock","titleX":29.1,"titleY":35.5,"titleAlign":"left","titleBaseline":"alphabetic","titleFont":"Liberation Serif","titleFontSize":8,"titleColor":"#000"}},"y":{"field":"log_sigma","type":"quantitative","scale":{"domain":[-5,0],"nice":false,"zero":false},"axis":{"orient":"left","labels":false,"ticks":false,"domain":false,"title":"= 100 km s","titleX":52,"titleY":148,"titleAngle":0,"titleAlign":"left","titleBaseline":"alphabetic","titleFont":"Liberation Serif","titleFontSize":11,"titleColor":"#000"}}}},
{"data":{"name":"c_gray"},"mark":{"type":"line","strokeOpacity":0},"encoding":{"x":{"field":"lambda","type":"quantitative","scale":{"type":"log","domain":[1,1000]},"axis":{"orient":"bottom","labels":false,"ticks":false,"domain":false,"title":"−1","titleX":102,"titleY":28.5,"titleAlign":"left","titleBaseline":"alphabetic","titleFont":"Liberation Serif","titleFontSize":7.5,"titleColor":"#000"}},"y":{"field":"log_sigma","type":"quantitative","scale":{"domain":[-5,0],"nice":false,"zero":false},"axis":null}}}
]},
{"width":179,"height":115,"resolve":{"axis":{"x":"independent","y":"independent"}},
"layer":[
{"data":{"name":"d_gray"},"mark":{"type":"line","color":"#8a8a8a","strokeWidth":1,"interpolate":"monotone","clip":true},"encoding":{"x":{"field":"lambda","type":"quantitative","scale":{"type":"log","domain":[1,1000]},"axis":{"orient":"bottom","values":[1,10,100],"ticks":false,"domain":false,"labelExpr":"'' + datum.value","labelPadding":4,"labelFlush":false,"labelOverlap":false,"title":"λ (μm)","titleY":17,"titleBaseline":"middle","titleColor":"#000"}},"y":{"field":"log_sigma","type":"quantitative","scale":{"domain":[-5,0],"nice":false,"zero":false},"axis":{"orient":"left","values":[-5,-4,-3,-2,-1,0],"ticks":false,"domain":false,"labelExpr":"['10⁰','10⁻¹','10⁻²','10⁻³','10⁻⁴','10⁻⁵'][round(-datum.value)]","labelPadding":3,"labelFlush":false,"labelOverlap":false,"title":"σₑₓₜ (10⁻²¹ cm² per H)","titleX":-22,"titleY":57.5,"titleAngle":-90,"titleAlign":"center","titleBaseline":"middle","titleColor":"#000"}}}},
{"data":{"name":"d_dotted"},"mark":{"type":"line","color":"#000","strokeWidth":1.2,"strokeDash":[1.2,2.4],"clip":true},"encoding":{"x":{"field":"lambda","type":"quantitative","scale":{"type":"log","domain":[1,1000]},"axis":{"orient":"bottom","values":[1,10,100,1000],"labels":false,"tickSize":-4,"domain":false,"title":null}},"y":{"field":"log_sigma","type":"quantitative","scale":{"domain":[-5,0],"nice":false,"zero":false},"axis":{"orient":"left","values":[-5,-4,-3,-2,-1,0],"labels":false,"tickSize":-4,"domain":false,"title":null}}}},
{"data":{"name":"d_dashed"},"mark":{"type":"line","color":"#000","strokeWidth":1.2,"strokeDash":[4,3],"interpolate":"monotone","clip":true},"encoding":{"x":{"field":"lambda","type":"quantitative","scale":{"type":"log","domain":[1,1000]},"axis":{"orient":"bottom","values":[2,3,4,5,6,7,8,9,20,30,40,50,60,70,80,90,200,300,400,500,600,700,800,900],"labels":false,"tickSize":-2,"domain":false,"title":null}},"y":{"field":"log_sigma","type":"quantitative","scale":{"domain":[-5,0],"nice":false,"zero":false},"axis":{"orient":"left","values":[-4.699,-4.523,-4.398,-4.301,-4.222,-4.155,-4.097,-4.046,-3.699,-3.523,-3.398,-3.301,-3.222,-3.155,-3.097,-3.046,-2.699,-2.523,-2.398,-2.301,-2.222,-2.155,-2.097,-2.046,-1.699,-1.523,-1.398,-1.301,-1.222,-1.155,-1.097,-1.046,-0.699,-0.523,-0.398,-0.301,-0.222,-0.155,-0.097,-0.046],"labels":false,"tickSize":-2,"domain":false,"title":null}}}},
{"data":{"name":"d_red"},"mark":{"type":"line","color":"#d8202a","strokeWidth":1.5,"interpolate":"monotone","clip":true},"encoding":{"x":{"field":"lambda","type":"quantitative","scale":{"type":"log","domain":[1,1000]},"axis":{"orient":"top","values":[1,10,100,1000],"labels":false,"tickSize":-4,"domain":false,"title":null}},"y":{"field":"log_sigma","type":"quantitative","scale":{"domain":[-5,0],"nice":false,"zero":false},"axis":{"orient":"right","values":[-5,-4,-3,-2,-1,0],"labels":false,"tickSize":-4,"domain":false,"title":null}}}},
{"data":{"name":"d_gray"},"mark":{"type":"line","strokeOpacity":0},"encoding":{"x":{"field":"lambda","type":"quantitative","scale":{"type":"log","domain":[1,1000]},"axis":{"orient":"top","values":[2,3,4,5,6,7,8,9,20,30,40,50,60,70,80,90,200,300,400,500,600,700,800,900],"labels":false,"tickSize":-2,"domain":false,"title":null}},"y":{"field":"log_sigma","type":"quantitative","scale":{"domain":[-5,0],"nice":false,"zero":false},"axis":{"orient":"right","values":[-4.699,-4.523,-4.398,-4.301,-4.222,-4.155,-4.097,-4.046,-3.699,-3.523,-3.398,-3.301,-3.222,-3.155,-3.097,-3.046,-2.699,-2.523,-2.398,-2.301,-2.222,-2.155,-2.097,-2.046,-1.699,-1.523,-1.398,-1.301,-1.222,-1.155,-1.097,-1.046,-0.699,-0.523,-0.398,-0.301,-0.222,-0.155,-0.097,-0.046],"labels":false,"tickSize":-2,"domain":false,"title":null}}}},
{"data":{"name":"d_gray"},"mark":{"type":"line","strokeOpacity":0},"encoding":{"x":{"field":"lambda","type":"quantitative","scale":{"type":"log","domain":[1,1000]},"axis":{"orient":"bottom","labels":false,"ticks":false,"domain":false,"title":"(d)","titleX":-28.6,"titleY":33,"titleAlign":"left","titleBaseline":"alphabetic","titleFont":"Liberation Serif","titleFontSize":11,"titleColor":"#000"}},"y":{"field":"log_sigma","type":"quantitative","scale":{"domain":[-5,0],"nice":false,"zero":false},"axis":{"orient":"left","labels":false,"ticks":false,"domain":false,"title":"V","titleX":-10.5,"titleY":148,"titleAngle":0,"titleAlign":"left","titleBaseline":"alphabetic","titleFont":"Liberation Serif","titleFontSize":11,"titleFontStyle":"italic","titleColor":"#000"}}}},
{"data":{"name":"d_gray"},"mark":{"type":"line","strokeOpacity":0},"encoding":{"x":{"field":"lambda","type":"quantitative","scale":{"type":"log","domain":[1,1000]},"axis":{"orient":"bottom","labels":false,"ticks":false,"domain":false,"title":"shock","titleX":-2.5,"titleY":35.5,"titleAlign":"left","titleBaseline":"alphabetic","titleFont":"Liberation Serif","titleFontSize":8,"titleColor":"#000"}},"y":{"field":"log_sigma","type":"quantitative","scale":{"domain":[-5,0],"nice":false,"zero":false},"axis":{"orient":"left","labels":false,"ticks":false,"domain":false,"title":"= 125 km s","titleX":20.4,"titleY":148,"titleAngle":0,"titleAlign":"left","titleBaseline":"alphabetic","titleFont":"Liberation Serif","titleFontSize":11,"titleColor":"#000"}}}},
{"data":{"name":"d_gray"},"mark":{"type":"line","strokeOpacity":0},"encoding":{"x":{"field":"lambda","type":"quantitative","scale":{"type":"log","domain":[1,1000]},"axis":{"orient":"bottom","labels":false,"ticks":false,"domain":false,"title":"−1","titleX":70.4,"titleY":28.5,"titleAlign":"left","titleBaseline":"alphabetic","titleFont":"Liberation Serif","titleFontSize":7.5,"titleColor":"#000"}},"y":{"field":"log_sigma","type":"quantitative","scale":{"domain":[-5,0],"nice":false,"zero":false},"axis":null}}}
]},
{"width":179,"height":115,"resolve":{"axis":{"x":"independent","y":"independent"}},
"layer":[
{"data":{"name":"e_gray"},"mark":{"type":"line","color":"#8a8a8a","strokeWidth":1,"interpolate":"monotone","clip":true},"encoding":{"x":{"field":"lambda","type":"quantitative","scale":{"type":"log","domain":[1,1000]},"axis":{"orient":"bottom","values":[1,10,100],"ticks":false,"domain":false,"labelExpr":"'' + datum.value","labelPadding":4,"labelFlush":false,"labelOverlap":false,"title":"λ (μm)","titleY":17,"titleBaseline":"middle","titleColor":"#000"}},"y":{"field":"log_sigma","type":"quantitative","scale":{"domain":[-5,0],"nice":false,"zero":false},"axis":null}}},
{"data":{"name":"e_dotted"},"mark":{"type":"line","color":"#000","strokeWidth":1.2,"strokeDash":[1.2,2.4],"clip":true},"encoding":{"x":{"field":"lambda","type":"quantitative","scale":{"type":"log","domain":[1,1000]},"axis":{"orient":"bottom","values":[1,10,100,1000],"labels":false,"tickSize":-4,"domain":false,"title":null}},"y":{"field":"log_sigma","type":"quantitative","scale":{"domain":[-5,0],"nice":false,"zero":false},"axis":{"orient":"left","values":[-5,-4,-3,-2,-1,0],"labels":false,"tickSize":-4,"domain":false,"title":null}}}},
{"data":{"name":"e_dashed"},"mark":{"type":"line","color":"#000","strokeWidth":1.2,"strokeDash":[4,3],"interpolate":"monotone","clip":true},"encoding":{"x":{"field":"lambda","type":"quantitative","scale":{"type":"log","domain":[1,1000]},"axis":{"orient":"bottom","values":[2,3,4,5,6,7,8,9,20,30,40,50,60,70,80,90,200,300,400,500,600,700,800,900],"labels":false,"tickSize":-2,"domain":false,"title":null}},"y":{"field":"log_sigma","type":"quantitative","scale":{"domain":[-5,0],"nice":false,"zero":false},"axis":{"orient":"left","values":[-4.699,-4.523,-4.398,-4.301,-4.222,-4.155,-4.097,-4.046,-3.699,-3.523,-3.398,-3.301,-3.222,-3.155,-3.097,-3.046,-2.699,-2.523,-2.398,-2.301,-2.222,-2.155,-2.097,-2.046,-1.699,-1.523,-1.398,-1.301,-1.222,-1.155,-1.097,-1.046,-0.699,-0.523,-0.398,-0.301,-0.222,-0.155,-0.097,-0.046],"labels":false,"tickSize":-2,"domain":false,"title":null}}}},
{"data":{"name":"e_red"},"mark":{"type":"line","color":"#d8202a","strokeWidth":1.5,"interpolate":"monotone","clip":true},"encoding":{"x":{"field":"lambda","type":"quantitative","scale":{"type":"log","domain":[1,1000]},"axis":{"orient":"top","values":[1,10,100,1000],"labels":false,"tickSize":-4,"domain":false,"title":null}},"y":{"field":"log_sigma","type":"quantitative","scale":{"domain":[-5,0],"nice":false,"zero":false},"axis":{"orient":"right","values":[-5,-4,-3,-2,-1,0],"labels":false,"tickSize":-4,"domain":false,"title":null}}}},
{"data":{"name":"e_gray"},"mark":{"type":"line","strokeOpacity":0},"encoding":{"x":{"field":"lambda","type":"quantitative","scale":{"type":"log","domain":[1,1000]},"axis":{"orient":"top","values":[2,3,4,5,6,7,8,9,20,30,40,50,60,70,80,90,200,300,400,500,600,700,800,900],"labels":false,"tickSize":-2,"domain":false,"title":null}},"y":{"field":"log_sigma","type":"quantitative","scale":{"domain":[-5,0],"nice":false,"zero":false},"axis":{"orient":"right","values":[-4.699,-4.523,-4.398,-4.301,-4.222,-4.155,-4.097,-4.046,-3.699,-3.523,-3.398,-3.301,-3.222,-3.155,-3.097,-3.046,-2.699,-2.523,-2.398,-2.301,-2.222,-2.155,-2.097,-2.046,-1.699,-1.523,-1.398,-1.301,-1.222,-1.155,-1.097,-1.046,-0.699,-0.523,-0.398,-0.301,-0.222,-0.155,-0.097,-0.046],"labels":false,"tickSize":-2,"domain":false,"title":null}}}},
{"data":{"name":"e_gray"},"mark":{"type":"line","strokeOpacity":0},"encoding":{"x":{"field":"lambda","type":"quantitative","scale":{"type":"log","domain":[1,1000]},"axis":{"orient":"bottom","labels":false,"ticks":false,"domain":false,"title":"(e)","titleX":4,"titleY":33,"titleAlign":"left","titleBaseline":"alphabetic","titleFont":"Liberation Serif","titleFontSize":11,"titleColor":"#000"}},"y":{"field":"log_sigma","type":"quantitative","scale":{"domain":[-5,0],"nice":false,"zero":false},"axis":{"orient":"left","labels":false,"ticks":false,"domain":false,"title":"V","titleX":21.1,"titleY":148,"titleAngle":0,"titleAlign":"left","titleBaseline":"alphabetic","titleFont":"Liberation Serif","titleFontSize":11,"titleFontStyle":"italic","titleColor":"#000"}}}},
{"data":{"name":"e_gray"},"mark":{"type":"line","strokeOpacity":0},"encoding":{"x":{"field":"lambda","type":"quantitative","scale":{"type":"log","domain":[1,1000]},"axis":{"orient":"bottom","labels":false,"ticks":false,"domain":false,"title":"shock","titleX":29.1,"titleY":35.5,"titleAlign":"left","titleBaseline":"alphabetic","titleFont":"Liberation Serif","titleFontSize":8,"titleColor":"#000"}},"y":{"field":"log_sigma","type":"quantitative","scale":{"domain":[-5,0],"nice":false,"zero":false},"axis":{"orient":"left","labels":false,"ticks":false,"domain":false,"title":"= 150 km s","titleX":52,"titleY":148,"titleAngle":0,"titleAlign":"left","titleBaseline":"alphabetic","titleFont":"Liberation Serif","titleFontSize":11,"titleColor":"#000"}}}},
{"data":{"name":"e_gray"},"mark":{"type":"line","strokeOpacity":0},"encoding":{"x":{"field":"lambda","type":"quantitative","scale":{"type":"log","domain":[1,1000]},"axis":{"orient":"bottom","labels":false,"ticks":false,"domain":false,"title":"−1","titleX":102,"titleY":28.5,"titleAlign":"left","titleBaseline":"alphabetic","titleFont":"Liberation Serif","titleFontSize":7.5,"titleColor":"#000"}},"y":{"field":"log_sigma","type":"quantitative","scale":{"domain":[-5,0],"nice":false,"zero":false},"axis":null}}}
]},
{"width":179,"height":115,"resolve":{"axis":{"x":"independent","y":"independent"}},
"layer":[
{"data":{"name":"f_gray"},"mark":{"type":"line","color":"#8a8a8a","strokeWidth":1,"interpolate":"monotone","clip":true},"encoding":{"x":{"field":"lambda","type":"quantitative","scale":{"type":"log","domain":[1,1000]},"axis":{"orient":"bottom","values":[1,10,100,1000],"ticks":false,"domain":false,"labelExpr":"'' + datum.value","labelPadding":4,"labelFlush":false,"labelOverlap":false,"title":"λ (μm)","titleY":17,"titleBaseline":"middle","titleColor":"#000"}},"y":{"field":"log_sigma","type":"quantitative","scale":{"domain":[-5,0],"nice":false,"zero":false},"axis":null}}},
{"data":{"name":"f_gray"},"mark":{"type":"line","strokeOpacity":0},"encoding":{"x":{"field":"lambda","type":"quantitative","scale":{"type":"log","domain":[1,1000]},"axis":{"orient":"bottom","values":[1,10,100,1000],"labels":false,"tickSize":-4,"domain":false,"title":null}},"y":{"field":"log_sigma","type":"quantitative","scale":{"domain":[-5,0],"nice":false,"zero":false},"axis":{"orient":"left","values":[-5,-4,-3,-2,-1,0],"labels":false,"tickSize":-4,"domain":false,"title":null}}}},
{"data":{"name":"f_dashed"},"mark":{"type":"line","color":"#000","strokeWidth":1.2,"strokeDash":[4,3],"interpolate":"monotone","clip":true},"encoding":{"x":{"field":"lambda","type":"quantitative","scale":{"type":"log","domain":[1,1000]},"axis":{"orient":"bottom","values":[2,3,4,5,6,7,8,9,20,30,40,50,60,70,80,90,200,300,400,500,600,700,800,900],"labels":false,"tickSize":-2,"domain":false,"title":null}},"y":{"field":"log_sigma","type":"quantitative","scale":{"domain":[-5,0],"nice":false,"zero":false},"axis":{"orient":"left","values":[-4.699,-4.523,-4.398,-4.301,-4.222,-4.155,-4.097,-4.046,-3.699,-3.523,-3.398,-3.301,-3.222,-3.155,-3.097,-3.046,-2.699,-2.523,-2.398,-2.301,-2.222,-2.155,-2.097,-2.046,-1.699,-1.523,-1.398,-1.301,-1.222,-1.155,-1.097,-1.046,-0.699,-0.523,-0.398,-0.301,-0.222,-0.155,-0.097,-0.046],"labels":false,"tickSize":-2,"domain":false,"title":null}}}},
{"data":{"name":"f_red"},"mark":{"type":"line","color":"#d8202a","strokeWidth":1.5,"interpolate":"monotone","clip":true},"encoding":{"x":{"field":"lambda","type":"quantitative","scale":{"type":"log","domain":[1,1000]},"axis":{"orient":"top","values":[1,10,100,1000],"labels":false,"tickSize":-4,"domain":false,"title":null}},"y":{"field":"log_sigma","type":"quantitative","scale":{"domain":[-5,0],"nice":false,"zero":false},"axis":{"orient":"right","values":[-5,-4,-3,-2,-1,0],"labels":false,"tickSize":-4,"domain":false,"title":null}}}},
{"data":{"name":"f_gray"},"mark":{"type":"line","strokeOpacity":0},"encoding":{"x":{"field":"lambda","type":"quantitative","scale":{"type":"log","domain":[1,1000]},"axis":{"orient":"top","values":[2,3,4,5,6,7,8,9,20,30,40,50,60,70,80,90,200,300,400,500,600,700,800,900],"labels":false,"tickSize":-2,"domain":false,"title":null}},"y":{"field":"log_sigma","type":"quantitative","scale":{"domain":[-5,0],"nice":false,"zero":false},"axis":{"orient":"right","values":[-4.699,-4.523,-4.398,-4.301,-4.222,-4.155,-4.097,-4.046,-3.699,-3.523,-3.398,-3.301,-3.222,-3.155,-3.097,-3.046,-2.699,-2.523,-2.398,-2.301,-2.222,-2.155,-2.097,-2.046,-1.699,-1.523,-1.398,-1.301,-1.222,-1.155,-1.097,-1.046,-0.699,-0.523,-0.398,-0.301,-0.222,-0.155,-0.097,-0.046],"labels":false,"tickSize":-2,"domain":false,"title":null}}}},
{"data":{"name":"f_gray"},"mark":{"type":"line","strokeOpacity":0},"encoding":{"x":{"field":"lambda","type":"quantitative","scale":{"type":"log","domain":[1,1000]},"axis":{"orient":"bottom","labels":false,"ticks":false,"domain":false,"title":"(f)","titleX":4,"titleY":33,"titleAlign":"left","titleBaseline":"alphabetic","titleFont":"Liberation Serif","titleFontSize":11,"titleColor":"#000"}},"y":{"field":"log_sigma","type":"quantitative","scale":{"domain":[-5,0],"nice":false,"zero":false},"axis":{"orient":"left","labels":false,"ticks":false,"domain":false,"title":"V","titleX":19.8,"titleY":148,"titleAngle":0,"titleAlign":"left","titleBaseline":"alphabetic","titleFont":"Liberation Serif","titleFontSize":11,"titleFontStyle":"italic","titleColor":"#000"}}}},
{"data":{"name":"f_gray"},"mark":{"type":"line","strokeOpacity":0},"encoding":{"x":{"field":"lambda","type":"quantitative","scale":{"type":"log","domain":[1,1000]},"axis":{"orient":"bottom","labels":false,"ticks":false,"domain":false,"title":"shock","titleX":27.8,"titleY":35.5,"titleAlign":"left","titleBaseline":"alphabetic","titleFont":"Liberation Serif","titleFontSize":8,"titleColor":"#000"}},"y":{"field":"log_sigma","type":"quantitative","scale":{"domain":[-5,0],"nice":false,"zero":false},"axis":{"orient":"left","labels":false,"ticks":false,"domain":false,"title":"= 175 km s","titleX":50.7,"titleY":148,"titleAngle":0,"titleAlign":"left","titleBaseline":"alphabetic","titleFont":"Liberation Serif","titleFontSize":11,"titleColor":"#000"}}}},
{"data":{"name":"f_gray"},"mark":{"type":"line","strokeOpacity":0},"encoding":{"x":{"field":"lambda","type":"quantitative","scale":{"type":"log","domain":[1,1000]},"axis":{"orient":"bottom","labels":false,"ticks":false,"domain":false,"title":"−1","titleX":100.7,"titleY":28.5,"titleAlign":"left","titleBaseline":"alphabetic","titleFont":"Liberation Serif","titleFontSize":7.5,"titleColor":"#000"}},"y":{"field":"log_sigma","type":"quantitative","scale":{"domain":[-5,0],"nice":false,"zero":false},"axis":null}}}
]}
]
}
